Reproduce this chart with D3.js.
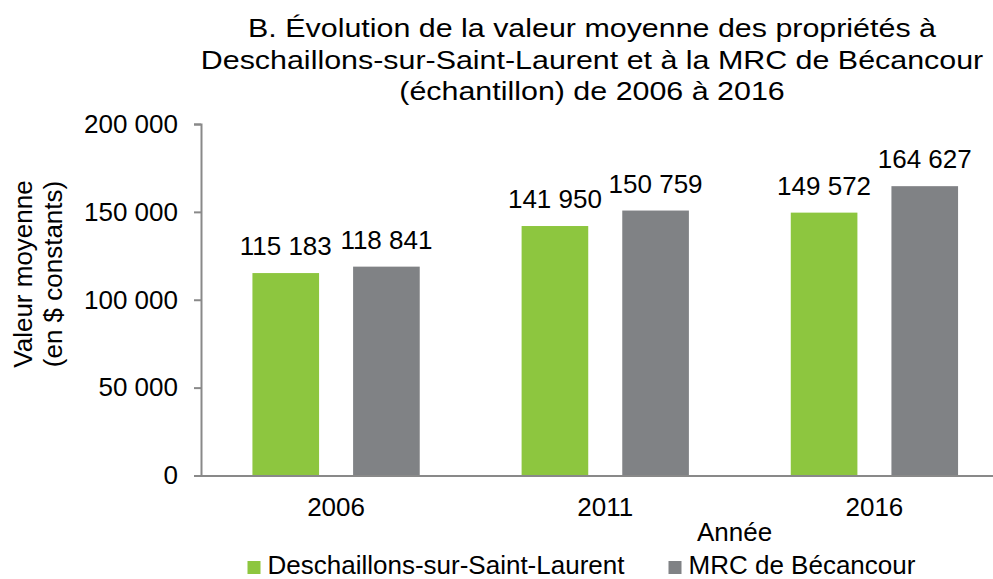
<!DOCTYPE html>
<html>
<head>
<meta charset="utf-8">
<script src="https://cdn.jsdelivr.net/npm/d3@7"></script>
<style>
  body { margin: 0; background: #fff; }
  svg { display: block; font-family: "Liberation Sans", Arial, sans-serif; }
</style>
</head>
<body>
<svg width="993" height="579"></svg>
<script>
var years = ['2006', '2011', '2016'];
var seriesNames = ['Deschaillons-sur-Saint-Laurent', 'MRC de Bécancour'];
var deschaillons = [115183, 141950, 149572];
var mrc = [118841, 150759, 164627];
var yTicks = [0, 50000, 100000, 150000, 200000];
var titleLines = [
    'B. Évolution de la valeur moyenne des propriétés à',
    'Deschaillons-sur-Saint-Laurent et à la MRC de Bécancour',
    '(échantillon) de 2006 à 2016'
];
var colors = ['#8dc63f', '#808285'];

var data = years.map((yr, i) => {
    return { year: yr, values: [deschaillons[i], mrc[i]] };
});

var fr = d3.formatLocale({ decimal: ',', thousands: ' ', grouping: [3], currency: ['', ' $'] });
var fmt = fr.format(',d');

var svg = d3.select('svg');
var axisColor = '#898989';

var y = d3.scaleLinear()
    .domain([0, 200000])
    .range([475.5, 124]);

var x0 = d3.scaleBand()
    .domain(years)
    .range([201.5, 1009]);

var x1 = d3.scaleBand()
    .domain([0, 1])
    .range([0, x0.bandwidth()])
    .paddingInner(0.338)
    .paddingOuter(0.506);

// title (the original font is a bit wider than the rest)
svg.append('g')
    .attr('transform', 'translate(592,0) scale(1.17,1)')
    .selectAll('text')
    .data(titleLines)
    .enter().append('text')
    .attr('x', 0)
    .attr('y', (d, i) => 37.5 + i * 31.3)
    .attr('text-anchor', 'middle')
    .attr('font-size', 26)
    .attr('fill', '#000')
    .text(d => d);

// y axis
var yAxis = d3.axisLeft(y)
    .tickValues(yTicks)
    .tickFormat(fmt)
    .tickSize(7)
    .tickPadding(16);

var gy = svg.append('g')
    .attr('transform', 'translate(201,0)')
    .call(yAxis);
gy.select('.domain').attr('stroke', axisColor).attr('stroke-width', 2);
gy.selectAll('.tick line').attr('stroke', axisColor).attr('stroke-width', 2);
gy.selectAll('.tick text')
    .attr('font-size', 26)
    .attr('font-family', '"Liberation Sans", Arial, sans-serif')
    .attr('fill', '#000');

// bars
var groups = svg.append('g').selectAll('g')
    .data(data)
    .enter().append('g')
    .attr('transform', d => 'translate(' + x0(d.year) + ',0)');

groups.selectAll('rect')
    .data(d => d.values)
    .enter().append('rect')
    .attr('x', (d, i) => x1(i))
    .attr('y', d => y(d))
    .attr('width', x1.bandwidth())
    .attr('height', d => y(0) - y(d))
    .attr('fill', (d, i) => colors[i]);

groups.selectAll('text.lbl')
    .data(d => d.values)
    .enter().append('text')
    .attr('class', 'lbl')
    .attr('x', (d, i) => x1(i) + x1.bandwidth() / 2)
    .attr('y', d => y(d) - 18)
    .attr('text-anchor', 'middle')
    .attr('font-size', 26)
    .attr('fill', '#000')
    .text(d => fmt(d));

// x axis
var xAxis = d3.axisBottom(x0)
    .tickSize(0)
    .tickPadding(22);

var gx = svg.append('g')
    .attr('transform', 'translate(0,' + y(0) + ')')
    .call(xAxis);
gx.select('.domain').attr('stroke', axisColor).attr('stroke-width', 2);
gx.selectAll('.tick text')
    .attr('font-size', 26)
    .attr('font-family', '"Liberation Sans", Arial, sans-serif')
    .attr('fill', '#000');

// axis titles
svg.append('text')
    .attr('x', 734.5)
    .attr('y', 541)
    .attr('text-anchor', 'middle')
    .attr('font-size', 26)
    .text('Année');

var yTitle = svg.append('g')
    .attr('transform', 'translate(0,274) rotate(-90)');
yTitle.append('text')
    .attr('x', 0).attr('y', 32)
    .attr('text-anchor', 'middle')
    .attr('font-size', 26)
    .text('Valeur moyenne');
yTitle.append('text')
    .attr('x', 0).attr('y', 62)
    .attr('text-anchor', 'middle')
    .attr('font-size', 26)
    .text('(en $ constants)');

// legend
var legendX = [247.5, 668.5];
var legend = svg.append('g').selectAll('g')
    .data(seriesNames)
    .enter().append('g')
    .attr('transform', (d, i) => 'translate(' + legendX[i] + ',561)');
legend.append('rect')
    .attr('width', 13)
    .attr('height', 13)
    .attr('fill', (d, i) => colors[i]);
legend.append('text')
    .attr('x', 20)
    .attr('y', 12.5)
    .attr('font-size', 26)
    .text(d => d);
</script>
</body>
</html>
